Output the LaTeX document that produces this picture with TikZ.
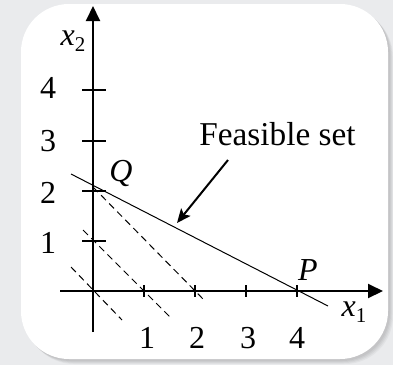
\documentclass[tikz,border=0pt]{standalone}
\usepackage{fontspec}
\setmainfont{Liberation Serif}
\usetikzlibrary{arrows.meta}
\definecolor{bggray}{RGB}{234,235,237}
\definecolor{shgray}{RGB}{150,150,152}
\newcommand{\vsub}[2]{\textit{#1}\raisebox{-6pt}{\fontsize{21}{21}\selectfont #2}}
\begin{document}
\begin{tikzpicture}[x=1pt,y=-1pt,
  every node/.style={inner sep=0pt,font=\fontsize{32}{36}\selectfont},
  axis/.style={line width=2pt,-{Triangle[length=15pt,width=14pt]}},
  tick/.style={line width=1.2pt},
  thinline/.style={line width=1pt},
  dashline/.style={line width=1pt,dash pattern=on 7pt off 4.5pt},
  pointer/.style={line width=2pt,-{Stealth[length=14pt,width=12pt,inset=3pt]}}]
\useasboundingbox (0,0) rectangle (393,365);
\fill[bggray] (0,0) rectangle (393,365);
% shadow
\foreach \d/\o in {5/0.10,4/0.12,3/0.14,2/0.16}{
  \fill[shgray,opacity=\o,rounded corners=48] (21+\d,4+\d) rectangle (388+\d,359+\d);
}
\fill[white,rounded corners=48] (21,4) rectangle (388,359);
% coordinates
\coordinate (O) at (93,291);
\coordinate (xs) at (60,291);
\coordinate (xe) at (383,291);
\coordinate (ys) at (93,332);
\coordinate (ye) at (93,6);
% axes
\draw[axis] (xs) -- (xe);
\draw[axis] (ys) -- (ye);
% ticks
\foreach \x/\n in {144/1,195/2,246/3,297/4}{
  \coordinate (xt\n a) at (\x,285);
  \coordinate (xt\n b) at (\x,297);
  \draw[tick] (xt\n a) -- (xt\n b);
}
\foreach \y/\n in {241/1,191/2,141/3,90/4}{
  \coordinate (yt\n a) at (82,\y);
  \coordinate (yt\n b) at (106,\y);
  \draw[tick] (yt\n a) -- (yt\n b);
}
% tick labels
\node (lx1) at (147,338) {1};
\node (lx2) at (197,338) {2};
\node (lx3) at (248,338) {3};
\node (lx4) at (297,338) {4};
\node (ly1) at (48,243) {1};
\node (ly2) at (48,193) {2};
\node (ly3) at (48,141) {3};
\node (ly4) at (48,88) {4};
% axis labels
\node (lxa2) at (73,41) {\vsub{x}{2}};
\node (lxa1) at (354,312) {\vsub{x}{1}};
% constraint line
\coordinate (ca) at (71,174);
\coordinate (cb) at (328,306);
\draw[thinline] (ca) -- (cb);
% dashed level lines
\coordinate (da1) at (93,187); \coordinate (db1) at (204,300);
\coordinate (da2) at (83,230); \coordinate (db2) at (170,317);
\coordinate (da3) at (71,267); \coordinate (db3) at (122,320);
\draw[dashline] (da1) -- (db1);
\draw[dashline] (da2) -- (db2);
\draw[dashline] (da3) -- (db3);
% points
\node (P) at (308,270) {\textit{P}};
\node (Q) at (121,173) {\textit{Q}};
% feasible set label
\node[font=\fontsize{33.3}{36}\selectfont] (fs) at (277.5,134) {Feasible set};
\coordinate (fa) at (228,160);
\coordinate (fb) at (177,223);
\draw[pointer] (fa) -- (fb);
\end{tikzpicture}
\end{document}
